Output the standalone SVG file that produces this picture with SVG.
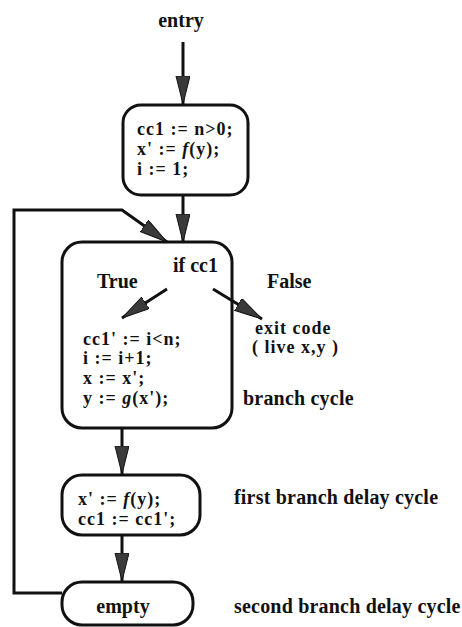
<svg xmlns="http://www.w3.org/2000/svg" width="462" height="627" viewBox="0 0 462 627">
<defs>
<style>
text{font-family:"Liberation Serif","Times New Roman",serif;font-weight:bold;font-size:20px;fill:#111}
.lbl{letter-spacing:0.2px}
.code{font-size:18px;letter-spacing:1px}
.box{fill:#fff;stroke:#111;stroke-width:3}
.conn{fill:none;stroke:#111;stroke-width:3}
.it{font-style:italic}
</style>
<marker id="ah" markerUnits="userSpaceOnUse" markerWidth="30" markerHeight="16" refX="28" refY="7" orient="auto">
<path d="M0,0 L28,7 L0,14 Z" fill="#3a3a3a" stroke="#111" stroke-width="1"/>
</marker>
</defs>
<rect width="462" height="627" fill="#fff"/>
<g id="entry">
<text x="181" y="27" text-anchor="middle">entry</text>
</g>
<g id="init">
<rect class="box" x="123" y="105" width="125" height="90" rx="18"/>
<text class="code" x="137" y="135">cc1 := n&gt;0;</text>
<text class="code" x="137" y="155">x' := <tspan class="it">f</tspan>(y);</text>
<text class="code" x="137" y="175">i := 1;</text>
</g>
<g id="branch">
<rect class="box" x="62" y="242" width="170" height="186" rx="20"/>
<text x="173" y="272">if cc1</text>
<text x="97" y="288">True</text>
<text class="code" x="83" y="345">cc1' := i&lt;n;</text>
<text class="code" x="83" y="364">i := i+1;</text>
<text class="code" x="83" y="384">x := x';</text>
<text class="code" x="83" y="404">y := <tspan class="it">g</tspan>(x');</text>
</g>
<g id="false-label">
<text x="267" y="288">False</text>
</g>
<g id="exit">
<text class="code" x="255" y="334">exit code</text>
<text class="code" x="252" y="353">( live x,y )</text>
</g>
<g id="branch-label">
<text class="lbl" x="243" y="405">branch cycle</text>
</g>
<g id="delay1">
<rect class="box" x="62" y="475" width="138" height="60" rx="20"/>
<text class="code" x="78" y="505">x' := <tspan class="it">f</tspan>(y);</text>
<text class="code" x="78" y="525">cc1 := cc1';</text>
</g>
<g id="delay1-label">
<text class="lbl" x="234" y="504">first branch delay cycle</text>
</g>
<g id="delay2">
<rect class="box" x="62" y="582" width="131" height="43" rx="20"/>
<text x="123" y="613" text-anchor="middle">empty</text>
</g>
<g id="delay2-label">
<text class="lbl" x="234" y="613">second branch delay cycle</text>
</g>
<g id="connectors">
<line class="conn" x1="183" y1="42" x2="183" y2="104" marker-end="url(#ah)"/>
<line class="conn" x1="183" y1="195" x2="183" y2="242" marker-end="url(#ah)"/>
<polyline class="conn" points="62,593 14,593 14,210 122,210 167,242" marker-end="url(#ah)"/>
<line class="conn" x1="167" y1="289" x2="122" y2="318" marker-end="url(#ah)"/>
<line class="conn" x1="213" y1="289" x2="262" y2="319" marker-end="url(#ah)"/>
<line class="conn" x1="122" y1="428" x2="122" y2="474" marker-end="url(#ah)"/>
<line class="conn" x1="122" y1="535" x2="122" y2="581" marker-end="url(#ah)"/>
</g>
</svg>
